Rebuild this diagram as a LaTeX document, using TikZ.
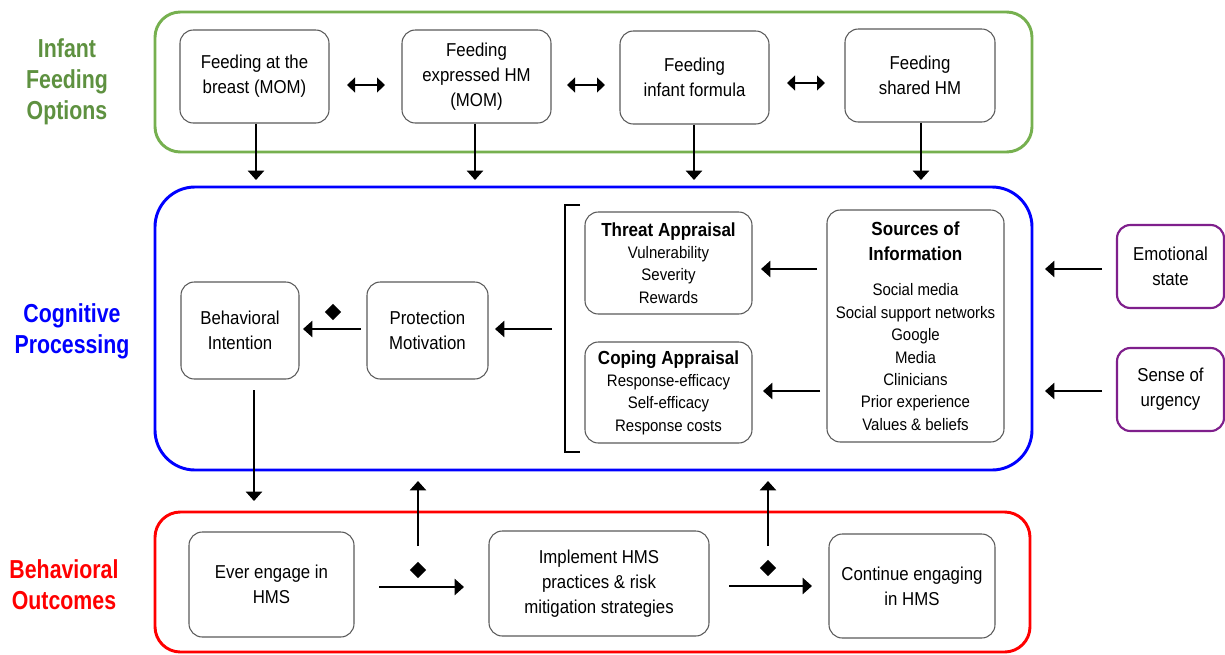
\documentclass[tikz,border=0pt]{standalone}
\usepackage{fontspec}
\setmainfont[FakeStretch=0.9]{Liberation Sans}
\newfontfamily\labelfont[FakeStretch=0.82]{Liberation Sans}
\usetikzlibrary{arrows.meta,shapes.geometric}
\definecolor{gborder}{HTML}{76B04F}
\definecolor{gtext}{HTML}{5E9140}
\definecolor{bblue}{HTML}{0000FF}
\definecolor{rred}{HTML}{FF0000}
\definecolor{ppurple}{HTML}{7F1F8C}
\definecolor{nodegray}{HTML}{5A5A5A}
\newcommand\mainfs{\fontsize{14pt}{18.75pt}\selectfont}
\newcommand\smallfs{\fontsize{12.5pt}{16.8pt}\selectfont}
\newcommand\headfs{\fontsize{14.2pt}{16.8pt}\selectfont\bfseries}
\newcommand\labelfs{\labelfont\fontsize{19.5pt}{23.25pt}\selectfont\bfseries}
\begin{document}
\begin{tikzpicture}[x=0.75pt,y=-0.75pt,
  container/.style={line width=2.2pt, inner sep=0pt},
  box/.style={draw=nodegray, line width=0.8pt, rounded corners=10pt, align=center, inner sep=2pt, font=\mainfs},
  sbox/.style={box, font=\smallfs},
  pbox/.style={box, draw=ppurple, line width=1.6pt, minimum width=80.25pt, minimum height=62.25pt},
  arr/.style={-{Triangle[length=7pt,width=12pt]}, line width=2pt},
  darr/.style={{Triangle[length=6pt,width=11pt]}-{Triangle[length=6pt,width=11pt]}, line width=2pt},
  dia/.style={diamond, fill=black, inner sep=0pt, minimum width=12.5pt, minimum height=12.5pt},
  lab/.style={font=\labelfs, align=center}]
\fill[white] (0,0) rectangle (1225,654);
\useasboundingbox (0,0) rectangle (1225,654);

% containers
\node[container, draw=gborder, rounded corners=19pt, minimum width=657.75pt, minimum height=105pt] (opts) at (593.5,82) {};
\node[container, draw=bblue, rounded corners=30pt, minimum width=657.75pt, minimum height=212.25pt] (cog) at (593.5,328.5) {};
\node[container, draw=rred, rounded corners=19pt, minimum width=656.25pt, minimum height=105pt] (beh) at (592.5,582) {};

% left labels
\node[lab, text=gtext] (l1) at (67,82) {Infant\\Feeding\\Options};
\node[lab, text=bblue] (l2) at (72,331) {Cognitive\\Processing};
\node[lab, text=rred] (l3) at (64,585) {Behavioral\\Outcomes};

% feeding options
\node[box, minimum width=111.75pt, minimum height=69.75pt] (fb1) at (254.5,76.5) {Feeding at the\\breast (MOM)};
\node[box, minimum width=111.75pt, minimum height=69.75pt] (fb2) at (476.5,76.5) {Feeding\\expressed HM\\(MOM)};
\node[box, minimum width=111.75pt, minimum height=69.75pt] (fb3) at (694.5,77.5) {Feeding\\infant formula};
\node[box, minimum width=112.5pt, minimum height=69.75pt] (fb4) at (920,75.5) {Feeding\\shared HM};

% cognitive processing
\node[box, minimum width=88.5pt, minimum height=72.75pt] (bi) at (240,330.5) {Behavioral\\Intention};
\node[box, minimum width=90.75pt, minimum height=72.75pt] (pm) at (427.5,330.5) {Protection\\Motivation};
\node[sbox, minimum width=125.25pt, minimum height=76.5pt] (thr) at (668.5,263) {{\headfs Threat Appraisal}\\Vulnerability\\Severity\\Rewards};
\node[sbox, minimum width=125.25pt, minimum height=75.75pt] (cop) at (668.5,392.5) {{\headfs Coping Appraisal}\\Response-efficacy\\Self-efficacy\\Response costs};
\node[sbox, minimum width=132.75pt, minimum height=174pt] (src) at (915.5,326) {{\headfs Sources of}\\[2pt]{\headfs Information}\\[10pt]Social media\\Social support networks\\Google\\Media\\Clinicians\\Prior experience\\Values \& beliefs};
\node[pbox] (emo) at (1170.5,266.5) {Emotional\\state};
\node[pbox] (urg) at (1170.5,389.5) {Sense of\\urgency};

% behavioral outcomes
\node[box, minimum width=123.75pt, minimum height=78.75pt] (ever) at (271.5,584.5) {Ever engage in\\HMS};
\node[box, minimum width=165pt, minimum height=78.75pt] (impl) at (599,583.5) {Implement HMS\\practices \& risk\\mitigation strategies};
\node[box, minimum width=124.5pt, minimum height=78pt] (cont) at (912,586) {Continue engaging\\in HMS};

% bracket
\draw[line width=1.5pt] (580,205) -- (565,205) -- (565,452) -- (580,452);

% double arrows between feeding options
\coordinate (h1a) at (347,85); \coordinate (h1b) at (385,85);
\coordinate (h2a) at (567,85); \coordinate (h2b) at (605,85);
\coordinate (h3a) at (787,83); \coordinate (h3b) at (825,83);
\draw[darr] (h1a) -- (h1b);
\draw[darr] (h2a) -- (h2b);
\draw[darr] (h3a) -- (h3b);

% down arrows to cognitive processing
\coordinate (d1) at (256,180); \coordinate (d2) at (475,180);
\coordinate (d3) at (694,180); \coordinate (d4) at (921,180);
\draw[arr] (fb1.south -| d1) -- (d1);
\draw[arr] (fb2.south -| d2) -- (d2);
\draw[arr] (fb3.south -| d3) -- (d3);
\draw[arr] (fb4.south -| d4) -- (d4);

% within cognitive processing
\coordinate (pmL) at (361,329); \coordinate (biR) at (303,329);
\draw[arr] (pmL) -- (biR);
\node[dia] (dm1) at (333,312) {};
\coordinate (brL) at (552,329); \coordinate (pmR) at (495,329);
\draw[arr] (brL) -- (pmR);
\coordinate (s1a) at (817,269); \coordinate (s1b) at (761,269);
\coordinate (s2a) at (820,391); \coordinate (s2b) at (763,391);
\draw[arr] (s1a) -- (s1b);
\draw[arr] (s2a) -- (s2b);
\coordinate (e1a) at (1102,269); \coordinate (e1b) at (1045,269);
\coordinate (e2a) at (1102,391); \coordinate (e2b) at (1045,391);
\draw[arr] (e1a) -- (e1b);
\draw[arr] (e2a) -- (e2b);

% between cognitive and behavioral
\coordinate (bi1) at (254,390); \coordinate (bi2) at (254,501);
\draw[arr] (bi1) -- (bi2);
\coordinate (u1a) at (418,546); \coordinate (u1b) at (418,481);
\coordinate (u2a) at (768,546); \coordinate (u2b) at (768,481);
\draw[arr] (u1a) -- (u1b);
\draw[arr] (u2a) -- (u2b);

% behavioral outcome arrows
\coordinate (o1a) at (379,587); \coordinate (o1b) at (464,587);
\draw[arr] (o1a) -- (o1b);
\node[dia] (dm2) at (418,570) {};
\coordinate (o2a) at (729,586); \coordinate (o2b) at (812,586);
\draw[arr] (o2a) -- (o2b);
\node[dia] (dm3) at (768,568) {};
\end{tikzpicture}
\end{document}
